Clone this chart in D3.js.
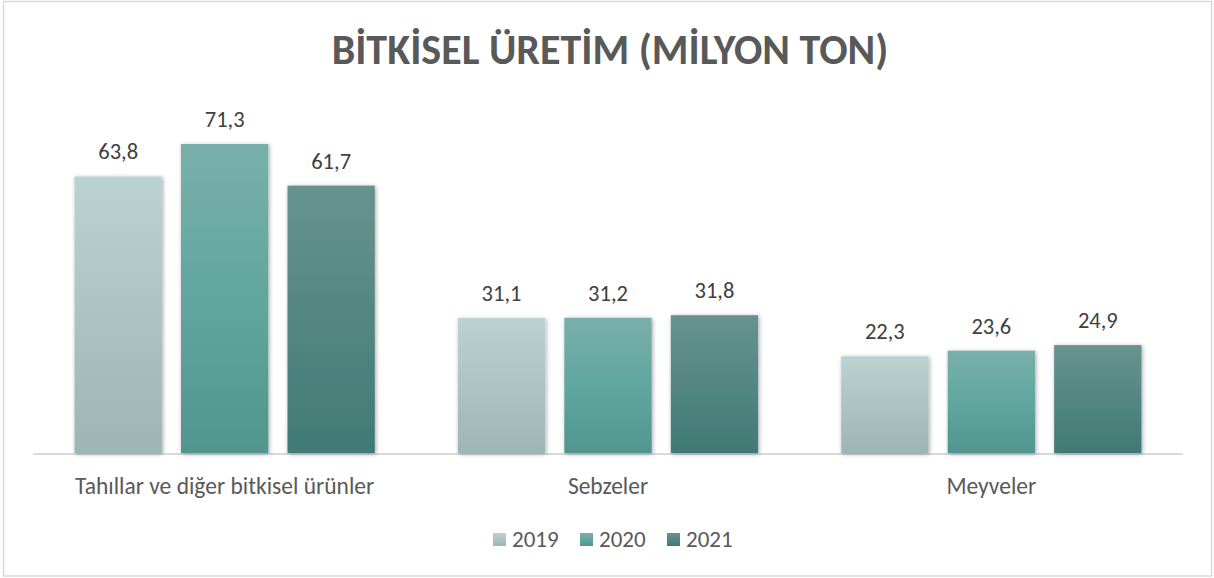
<!DOCTYPE html>
<html>
<head>
<meta charset="utf-8">
<script src="https://cdn.jsdelivr.net/npm/d3@7"></script>
<style>
  html, body { margin: 0; padding: 0; background: #ffffff; }
  svg { display: block; }
  text { font-family: "Carlito", "Lato", "Open Sans", sans-serif; }
</style>
</head>
<body>
<svg id="chart" width="1214" height="578"></svg>
<script>
const title = "BİTKİSEL ÜRETİM (MİLYON TON)";
const categories = ["Tahıllar ve diğer bitkisel ürünler", "Sebzeler", "Meyveler"];
const seriesNames = ["2019", "2020", "2021"];
const values2019 = [63.8, 31.1, 22.3];
const values2020 = [71.3, 31.2, 23.6];
const values2021 = [61.7, 31.8, 24.9];
const seriesValues = [values2019, values2020, values2021];

const gradStops = [
  [["0%", "#bad2d1"], ["100%", "#9db6b5"]],
  [["0%", "#79afaa"], ["50%", "#61a69f"], ["100%", "#50958e"]],
  [["0%", "#67938f"], ["100%", "#407a74"]]
];

const svg = d3.select("#chart");
const W = 1214, H = 578;

// outer border
svg.append("rect")
  .attr("x", 3.5).attr("y", 1.5).attr("width", W - 6).attr("height", H - 3.5)
  .attr("fill", "#ffffff").attr("stroke", "#d9d9d9").attr("stroke-width", 1.5);

const defs = svg.append("defs");
gradStops.forEach((stops, i) => {
  const g = defs.append("linearGradient").attr("id", "g" + i)
    .attr("x1", 0).attr("y1", 0).attr("x2", 0).attr("y2", 1);
  stops.forEach(s => g.append("stop").attr("offset", s[0]).attr("stop-color", s[1]));
});
const f = defs.append("filter").attr("id", "shadow")
  .attr("x", "-20%").attr("y", "-20%").attr("width", "140%").attr("height", "140%");
f.append("feDropShadow").attr("dx", 1).attr("dy", 1).attr("stdDeviation", 2.2)
  .attr("flood-color", "#000").attr("flood-opacity", 0.35);

const plotLeft = 33, plotRight = 1183, baseY = 453;
const pxPerUnit = 4.334;
const yMax = 80;

const x0 = d3.scaleBand().domain(categories).range([plotLeft, plotRight]).padding(0);
const x1 = d3.scaleBand().domain(seriesNames).range([0, x0.bandwidth()])
  .paddingInner(0.18).paddingOuter(0.39);
const y = d3.scaleLinear().domain([0, yMax]).range([baseY, baseY - yMax * pxPerUnit]);

// axis line
svg.append("line")
  .attr("x1", plotLeft).attr("x2", plotRight)
  .attr("y1", baseY + 1).attr("y2", baseY + 1)
  .attr("stroke", "#d9d9d9").attr("stroke-width", 2);

const groups = svg.append("g").selectAll("g")
  .data(categories).join("g")
  .attr("transform", d => `translate(${x0(d)},0)`);

groups.each(function(cat, ci) {
  const g = d3.select(this);
  seriesNames.forEach((s, si) => {
    const v = seriesValues[si][ci];
    g.append("rect")
      .attr("x", x1(s)).attr("y", y(v))
      .attr("width", x1.bandwidth()).attr("height", baseY - y(v))
      .attr("fill", `url(#g${si})`)
      .attr("filter", "url(#shadow)");
    g.append("text")
      .attr("x", x1(s) + x1.bandwidth() / 2)
      .attr("y", y(v) - 17)
      .attr("text-anchor", "middle")
      .attr("font-size", 22.5)
      .attr("fill", "#404040")
      .text(d3.format(".1f")(v).replace(".", ","));
  });
});

// category labels
svg.append("g").selectAll("text")
  .data(categories).join("text")
  .attr("x", d => x0(d) + x0.bandwidth() / 2)
  .attr("y", 494)
  .attr("text-anchor", "middle")
  .attr("font-size", 23.5)
  .attr("fill", "#595959")
  .text(d => d);

// title
svg.append("text")
  .attr("x", 610).attr("y", 64)
  .attr("text-anchor", "middle")
  .attr("font-size", 42)
  .attr("font-weight", "bold")
  .attr("fill", "#595959")
  .text(title);

// legend
const legendX = [493, 580, 667];
const legend = svg.append("g").selectAll("g")
  .data(seriesNames).join("g")
  .attr("transform", (d, i) => `translate(${legendX[i]},533)`);
legend.append("rect")
  .attr("width", 13).attr("height", 13)
  .attr("fill", (d, i) => `url(#g${i})`);
legend.append("text")
  .attr("x", 19).attr("y", 13.5)
  .attr("font-size", 23)
  .attr("fill", "#595959")
  .text(d => d);
</script>
</body>
</html>
